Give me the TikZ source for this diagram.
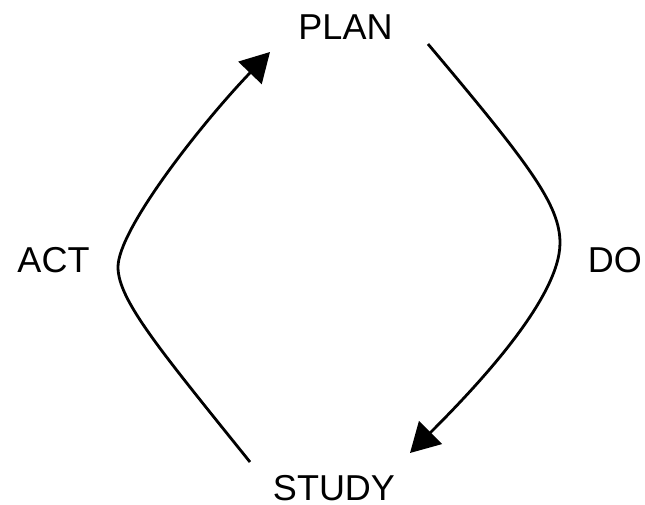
\documentclass[tikz,border=0pt]{standalone}
\usepackage{fontspec}
\setmainfont{Liberation Sans}
\usetikzlibrary{arrows.meta}

\begin{document}
\begin{tikzpicture}[x=0.5pt,y=-0.5pt,
  cyclelbl/.style={font=\fontsize{18}{20}\selectfont,anchor=base,inner sep=0pt},
  cycleline/.style={line width=1.4pt,-{Triangle[length=14.5pt,width=16pt]}}]
  % ---- frame (pixel units, y down) ----
  \useasboundingbox (0,0) rectangle (645,505);

  % ---- stage labels ----
  \foreach \nm/\x/\y/\lbl in {plan/345.5/39/PLAN,
                              act/53.5/272/ACT,
                              do/615/272/DO,
                              study/334/500/STUDY}{
    \node[cyclelbl] (\nm) at (\x,\y) {\lbl};
  }

  % ---- curve ends ----
  \coordinate (pd-start) at (428,44);
  \coordinate (pd-bend)  at (560,243);
  \coordinate (pd-end)   at (410,453);
  \coordinate (sa-start) at (250,462);
  \coordinate (sa-bend)  at (118,267);
  \coordinate (sa-end)   at (270,52);

  % ---- PLAN -> DO -> STUDY ----
  \draw[cycleline] (pd-start) .. controls (530,165) and (560,205) .. (pd-bend)
                   .. controls (560,300) and (470,393) .. (pd-end);

  % ---- STUDY -> ACT -> PLAN ----
  \draw[cycleline] (sa-start) .. controls (160,350) and (118,300) .. (sa-bend)
                   .. controls (118,230) and (200,125) .. (sa-end);
\end{tikzpicture}
\end{document}
